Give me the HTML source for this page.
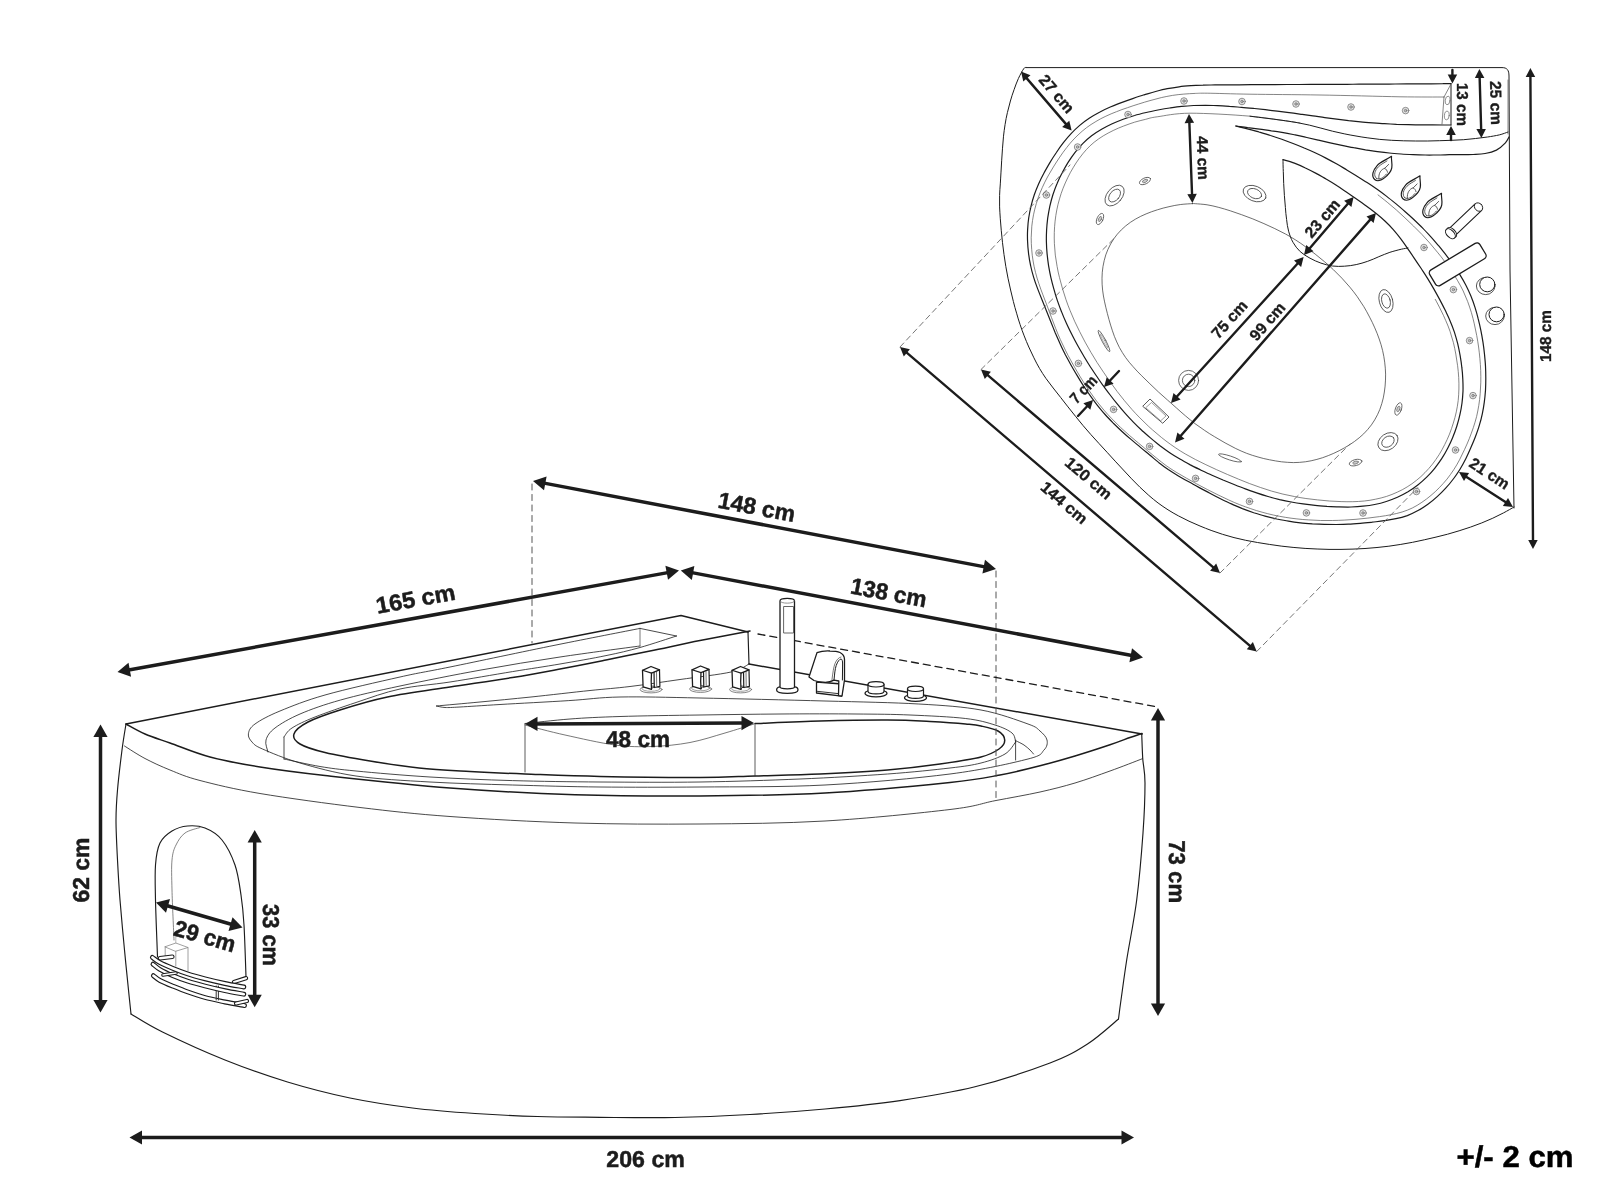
<!DOCTYPE html>
<html><head><meta charset="utf-8"><title>Corner bathtub dimensions</title>
<style>
html,body{margin:0;padding:0;background:#fff;}
body{width:1600px;height:1199px;overflow:hidden;}
svg{display:block;font-family:"Liberation Sans",sans-serif;will-change:transform;}
text{text-rendering:geometricPrecision;}
</style></head><body>
<svg width="1600" height="1199" viewBox="0 0 1600 1199" stroke-linecap="round" stroke-linejoin="round">
<rect width="1600" height="1199" fill="#fff"/>
<g id="perspective">
<path d="M126,724C125.3,728.3 123.4,739 122,750C120.6,761 118.5,778.3 117.5,790C116.5,801.7 116,808.3 116,820C116,831.7 116.8,846.7 117.5,860C118.2,873.3 118.8,885 120,900C121.2,915 123,934.2 124.5,950C126,965.8 127.9,984.3 129,995C130.1,1005.7 130.7,1010.8 131,1014" fill="none" stroke="#1c1c1c" stroke-width="1.15" />
<path d="M131,1014C136.2,1017 146.8,1024.3 162.5,1032C178.2,1039.7 204.2,1051.7 225,1060C245.8,1068.3 266.7,1075.7 287.5,1082C308.3,1088.3 329.2,1093.7 350,1098C370.8,1102.3 391.7,1105.4 412.5,1108C433.3,1110.6 454.2,1112.1 475,1113.5C495.8,1114.9 516.7,1115.9 537.5,1116.5C558.3,1117.1 577.1,1117.1 600,1117.3C622.9,1117.5 650,1118 675,1117.5C700,1117 725,1115.9 750,1114.5C775,1113.1 800,1111.3 825,1109C850,1106.7 875,1104.3 900,1100.6C925,1096.9 950,1093 975,1086.8C1000,1080.5 1031.2,1070.1 1050,1063C1068.8,1055.9 1076.1,1051.3 1087.5,1044C1098.9,1036.7 1113.3,1023.2 1118.5,1019" fill="none" stroke="#1c1c1c" stroke-width="1.15" />
<path d="M1141.7,733.5C1141.9,737.6 1142.2,749.8 1142.7,758C1143.2,766.2 1145,770.5 1145,783C1145,795.5 1144.4,813.5 1143,833C1141.6,852.5 1139.4,878.8 1136.7,900C1134,921.2 1129.3,943.3 1126.7,960C1124.1,976.7 1122.4,990.2 1121,1000C1119.6,1009.8 1118.9,1015.8 1118.5,1019" fill="none" stroke="#1c1c1c" stroke-width="1.15" />
<path d="M126,724L681,615.5L748,632" fill="none" stroke="#1c1c1c" stroke-width="1.5" />
<path d="M748,632L749,664" fill="none" stroke="#1c1c1c" stroke-width="1.15" />
<path d="M749,664L1142,734" fill="none" stroke="#1c1c1c" stroke-width="1.5" />
<path d="M126,724C129.2,725.7 137.7,730.8 145,734C152.3,737.2 159.2,739.2 170,743C180.8,746.8 195,753 210,757C225,761 240.8,763.9 260,767C279.2,770.1 293.3,772 325,775.5C356.7,779 408.3,784.8 450,788C491.7,791.2 533.3,793.4 575,794.7C616.7,796 658.3,796.3 700,796C741.7,795.7 783.3,795.2 825,793C866.7,790.8 920.8,785.5 950,782.5C979.2,779.5 985,777.8 1000,775C1015,772.2 1027.5,769 1040,765.8C1052.5,762.6 1063.3,759.5 1075,756C1086.7,752.5 1100.8,747.9 1110,744.8C1119.2,741.7 1124.7,739.4 1130,737.5C1135.3,735.6 1140,734.2 1142,733.5" fill="none" stroke="#1c1c1c" stroke-width="1.5" />
<path d="M124.5,746C127.9,748.1 137.4,754.5 145,758.5C152.6,762.5 160.8,766.3 170,770C179.2,773.7 185,776.6 200,780.5C215,784.4 233.3,789 260,793.5C286.7,798 328.3,803.7 360,807.5C391.7,811.3 414.2,813.9 450,816.5C485.8,819.1 533.3,821.8 575,823C616.7,824.2 658.3,824.3 700,824C741.7,823.7 783.3,823.4 825,821C866.7,818.6 921.7,812.9 950,809.5C978.3,806.1 980,803.6 995,800.7C1010,797.8 1026.7,795 1040,792C1053.3,789 1063.3,786.5 1075,783C1086.7,779.5 1098.8,775 1110,771C1121.2,767 1137,760.8 1142.4,758.7" fill="none" stroke="#1c1c1c" stroke-width="0.8" />
<path d="M640,628.4C626,631.2 587.7,638.6 556,645C524.3,651.4 476,661.7 450,667C424,672.3 420.8,672.3 400,677C379.2,681.7 345,689.3 325,695C305,700.7 291.7,706.2 280,711C268.3,715.8 260.3,720.2 255,724C249.7,727.8 248.9,730.8 248.4,733.8C247.9,736.8 249.7,739.5 252,742C254.3,744.5 254.5,745.5 262.5,749C270.5,752.5 284.4,758.5 300,763C315.6,767.5 334.3,772.8 356,776C377.7,779.2 403.9,780.5 430,782C456.1,783.5 484.2,784.2 512.5,785C540.8,785.8 568.8,786.7 600,787C631.2,787.3 662.5,787.3 700,787C737.5,786.7 783.3,787.2 825,785C866.7,782.8 916.2,778.3 950,774C983.8,769.7 1012.3,763 1028,759C1043.7,755 1040.8,753.2 1044,750C1047.2,746.8 1047.7,743.2 1047,740C1046.3,736.8 1043.2,733.7 1040,731C1036.8,728.3 1037.8,727.5 1028,724C1018.2,720.5 999.2,713.3 981,710C962.8,706.7 944.8,705.5 918.8,704C892.8,702.5 861.5,702 825,701C788.5,700 734.2,698.7 700,698C665.8,697.3 641.9,696.6 620,697C598.1,697.4 588.8,699.4 568.8,700.6C548.8,701.9 518.1,703.4 500,704.5C481.9,705.6 469.2,706.5 460,707C450.8,707.5 448.9,707.7 445,707.5C441.1,707.3 437.9,706.2 436.5,706" fill="none" stroke="#1c1c1c" stroke-width="0.8" />
<path d="M436.5,706C443.8,705.3 464.2,703.5 480,702C495.8,700.5 512.7,698.9 531,697C549.3,695.1 573.5,692.2 590,690.5C606.5,688.8 615,688.3 630,686.5C645,684.7 663.2,681.9 680,679.5C696.8,677.1 719.5,674.6 731,672C742.5,669.4 746,665.3 749,664" fill="none" stroke="#1c1c1c" stroke-width="0.8" />
<path d="M640,646C626.7,647.8 586.5,653 560,657C533.5,661 507.7,665.2 481,670C454.3,674.8 423.4,681 400,686C376.6,691 357.3,695.3 340.6,700C323.9,704.7 310.9,709.3 300,714C289.1,718.7 280.7,723.7 275,728C269.3,732.3 267.2,736 266,740C264.8,744 267.7,750 268,752" fill="none" stroke="#1c1c1c" stroke-width="0.8" />
<path d="M676.5,636C670.4,637.9 651.8,644.2 640,647.5C628.2,650.8 619.3,652.9 606,655.6C592.7,658.4 575.6,661.3 560,664C544.4,666.7 530.8,668.6 512.5,671.6C494.2,674.6 468.8,679.1 450,682C431.2,684.9 415.7,685.6 400,689C384.3,692.4 370.2,697.8 356,702.5C341.8,707.2 325.7,712.8 315,717C304.3,721.2 297.2,724.7 292,728C286.8,731.3 285.3,735.5 284,737" fill="none" stroke="#1c1c1c" stroke-width="0.8" />
<path d="M284,737L284,759" fill="none" stroke="#1c1c1c" stroke-width="0.8" />
<path d="M284,759C290,760.2 308,764.5 320,766.5C332,768.5 337.7,769.2 356,771C374.3,772.8 403.9,775.4 430,777C456.1,778.6 484.2,779.8 512.5,780.6C540.8,781.4 568.8,781.8 600,782C631.2,782.2 666.7,782.5 700,782C733.3,781.5 768.8,780.3 800,779C831.2,777.7 862.5,775.8 887.5,774C912.5,772.2 934.4,769.8 950,768C965.6,766.2 971.8,765.3 981,763C990.2,760.7 999.2,757.5 1005,754C1010.8,750.5 1013.8,744 1015.6,742" fill="none" stroke="#1c1c1c" stroke-width="0.8" />
<path d="M1015.6,740L1015.6,760" fill="none" stroke="#1c1c1c" stroke-width="0.8" />
<path d="M1015.6,742C1015,740.5 1015.4,735.8 1012,733C1008.6,730.2 1002.7,727.4 995,725C987.3,722.6 979.8,720.2 965.6,718.5C951.4,716.8 928.3,715.8 910,715C891.7,714.2 877.7,714.2 856,714C834.3,713.8 806,713.8 780,714C754,714.2 726.7,714.6 700,715C673.3,715.4 641.7,715.8 620,716.5C598.3,717.2 585.8,717.8 570,719C554.2,720.2 532.5,722.8 525,723.5" fill="none" stroke="#1c1c1c" stroke-width="0.8" />
<path d="M1016.4,741C1017.7,741.7 1021.7,743.5 1024,745C1026.3,746.5 1028.4,748.5 1030,750C1031.6,751.5 1032.9,753.3 1033.5,754" fill="none" stroke="#1c1c1c" stroke-width="0.8" />
<path d="M640,628.4L676.5,636" fill="none" stroke="#1c1c1c" stroke-width="0.8" />
<path d="M640,628.4L640,646" fill="none" stroke="#555" stroke-width="0.8" />
<path d="M750,631C741.7,632.6 716.7,637.3 700,640.6C683.3,643.9 665.7,647.8 650,651C634.3,654.2 621,657 606,660C591,663 575.6,666.1 560,669C544.4,671.9 530.8,674.5 512.5,677.5C494.2,680.5 470.8,683.8 450,687C429.2,690.2 405.8,693.2 387.5,697C369.2,700.8 353.2,705.8 340,710C326.8,714.2 315.7,718 308,722C300.3,726 295.3,730.3 294,734C292.7,737.7 294.8,740.9 300,744C305.2,747.1 313.3,749.7 325,752.5C336.7,755.3 354.3,758.4 370,761C385.7,763.6 402.3,766.2 419,768C435.7,769.8 452.3,770.5 470,771.5C487.7,772.5 503.3,773.2 525,774C546.7,774.8 570.8,775.9 600,776.5C629.2,777.1 674.2,777.6 700,777.5C725.8,777.4 735,776.6 755,776C775,775.4 797.9,775 820,774C842.1,773 867.5,771.7 887.5,770C907.5,768.3 924.4,766.2 940,764C955.6,761.8 971.2,759.5 981,757C990.8,754.5 995,751.8 999,749C1003,746.2 1004.9,743 1004.7,740C1004.5,737 1002,733.3 998,731C994,728.7 986.4,727.2 981,726C975.6,724.8 974.1,724.8 965.6,724C957.1,723.2 943,722.2 930,721.5C917,720.8 905.8,720.1 887.5,720C869.2,719.9 842.1,720.4 820,721C797.9,721.6 765.8,723.1 755,723.5" fill="none" stroke="#1c1c1c" stroke-width="1.5" />
<path d="M525,724L525,772" fill="none" stroke="#333" stroke-width="0.8" />
<path d="M755,724L755,776" fill="none" stroke="#333" stroke-width="0.8" />
<path d="M525,725C531.7,726.7 550,731.7 565,735C580,738.3 600.5,743.1 615,745C629.5,746.9 639.5,746.9 652,746.5C664.5,746.1 677.8,744.8 690,742.5C702.2,740.2 714.3,736.1 725,733C735.7,729.9 749.2,725.5 754,724" fill="none" stroke="#555" stroke-width="0.8" />
<path d="M532,484L532,643" fill="none" stroke="#555" stroke-width="1" stroke-dasharray="6 4.5"/>
<path d="M996,571L996,801" fill="none" stroke="#555" stroke-width="1" stroke-dasharray="6 4.5"/>
<path d="M758,634L1158,707" fill="none" stroke="#1c1c1c" stroke-width="1.3" stroke-dasharray="7 5"/>
<ellipse cx="651.1" cy="689.5" rx="11" ry="3.4" transform="rotate(0 651.1 689.5)" fill="#fff" stroke="#666" stroke-width="0.8"/>
<ellipse cx="651.1" cy="688.7" rx="9" ry="2.6" transform="rotate(0 651.1 688.7)" fill="none" stroke="#777" stroke-width="0.7"/>
<path d="M654,671.1 L659.5,669.9 L659.9,686.3 L654.3,687.5 Z" fill="#fff" stroke="#1c1c1c" stroke-width="1.2" />
<path d="M656.5,671.5 L656.7,686" fill="none" stroke="#555" stroke-width="0.8" />
<path d="M642.5,670.3 L651,666.5 L659.5,669.9 L651.5,673.1 C651.1,678.5 651.1,684.5 651.5,689.3 L643.1,686.9 Z" fill="#fff" stroke="#1c1c1c" stroke-width="1.3" />
<path d="M642.5,670.3 L651.5,673.1" fill="none" stroke="#1c1c1c" stroke-width="1.1" />
<path d="M651.5,689.3 C652,687.5 653,686.9 654.3,687.5" fill="none" stroke="#1c1c1c" stroke-width="1.0" />
<ellipse cx="700.6" cy="689" rx="11" ry="3.4" transform="rotate(0 700.6 689)" fill="#fff" stroke="#666" stroke-width="0.8"/>
<ellipse cx="700.6" cy="688.2" rx="9" ry="2.6" transform="rotate(0 700.6 688.2)" fill="none" stroke="#777" stroke-width="0.7"/>
<path d="M703.5,670.6 L709,669.4 L709.4,685.8 L703.8,687 Z" fill="#fff" stroke="#1c1c1c" stroke-width="1.2" />
<path d="M706,671 L706.2,685.5" fill="none" stroke="#555" stroke-width="0.8" />
<path d="M692,669.8 L700.5,666 L709,669.4 L701,672.6 C700.6,678 700.6,684 701,688.8 L692.6,686.4 Z" fill="#fff" stroke="#1c1c1c" stroke-width="1.3" />
<path d="M692,669.8 L701,672.6" fill="none" stroke="#1c1c1c" stroke-width="1.1" />
<path d="M701,688.8 C701.5,687 702.5,686.4 703.8,687" fill="none" stroke="#1c1c1c" stroke-width="1.0" />
<ellipse cx="740.6" cy="689.5" rx="11" ry="3.4" transform="rotate(0 740.6 689.5)" fill="#fff" stroke="#666" stroke-width="0.8"/>
<ellipse cx="740.6" cy="688.7" rx="9" ry="2.6" transform="rotate(0 740.6 688.7)" fill="none" stroke="#777" stroke-width="0.7"/>
<path d="M743.5,671.1 L749,669.9 L749.4,686.3 L743.8,687.5 Z" fill="#fff" stroke="#1c1c1c" stroke-width="1.2" />
<path d="M746,671.5 L746.2,686" fill="none" stroke="#555" stroke-width="0.8" />
<path d="M732,670.3 L740.5,666.5 L749,669.9 L741,673.1 C740.6,678.5 740.6,684.5 741,689.3 L732.6,686.9 Z" fill="#fff" stroke="#1c1c1c" stroke-width="1.3" />
<path d="M732,670.3 L741,673.1" fill="none" stroke="#1c1c1c" stroke-width="1.1" />
<path d="M741,689.3 C741.5,687.5 742.5,686.9 743.8,687.5" fill="none" stroke="#1c1c1c" stroke-width="1.0" />
<path d="M776.6,690 C776.6,687.6 779,686.8 780,686.8 L794.5,686.8 C796,686.8 798,687.8 798,690 C798,694.6 776.6,694.6 776.6,690Z" fill="#fff" stroke="#1c1c1c" stroke-width="1.3" />
<path d="M780,687 L780,601 C780,597.6 794.5,597.6 794.5,601 L794.5,687 C794.5,689.4 780,689.4 780,687Z" fill="#fff" stroke="#1c1c1c" stroke-width="1.3" />
<path d="M780,601 C780,604 794.5,604 794.5,601" fill="none" stroke="#777" stroke-width="0.8" />
<path d="M784,606.5L793.5,606.5L793.5,633L784,633Z" fill="none" stroke="#555" stroke-width="0.9" />
<path d="M816.5,682 L816.5,693 L841.5,696.2 L842.5,690 L842,684Z" fill="#fff" stroke="#1c1c1c" stroke-width="1.3" />
<path d="M817,691.3 L841.7,694" fill="none" stroke="#1c1c1c" stroke-width="0.9" />
<path d="M817,652.6 C821,651.2 826,650.8 830,651 C835,651 838,651.6 840,652.5 C843,654 844.5,656 844.5,659.5 L844.5,680 L842,696 L838.5,695.6 L838.8,681 L834,680.2 C830,682.3 826,682.6 823,682.2 C819,681.8 816,681.2 814,680.5 L809,677 Z" fill="#fff" stroke="#1c1c1c" stroke-width="1.3" />
<path d="M834,680.2 C834.6,674 835,669 836.2,665.5 C837.6,661.5 839.4,659.2 841,659 C842.2,659.2 842.6,661 842.6,664 L842.4,680" fill="none" stroke="#1c1c1c" stroke-width="1.0" />
<path d="M832,679.6 C832.8,673 833.6,667 835,663.5 C836.4,660 838.6,657.4 841,657" fill="none" stroke="#555" stroke-width="0.8" />
<ellipse cx="876" cy="693.3" rx="11" ry="3.6" transform="rotate(0 876 693.3)" fill="#fff" stroke="#1c1c1c" stroke-width="1.2"/>
<path d="M868,684.3 L868,691.3 C868,694.8 884,694.8 884,691.3 L884,684.3" fill="#fff" stroke="#1c1c1c" stroke-width="1.2" />
<ellipse cx="876" cy="684.3" rx="8" ry="2.7" transform="rotate(0 876 684.3)" fill="#fff" stroke="#1c1c1c" stroke-width="1.2"/>
<ellipse cx="915.5" cy="697.8" rx="11" ry="3.6" transform="rotate(0 915.5 697.8)" fill="#fff" stroke="#1c1c1c" stroke-width="1.2"/>
<path d="M907.5,688.8 L907.5,695.8 C907.5,699.3 923.5,699.3 923.5,695.8 L923.5,688.8" fill="#fff" stroke="#1c1c1c" stroke-width="1.2" />
<ellipse cx="915.5" cy="688.8" rx="8" ry="2.7" transform="rotate(0 915.5 688.8)" fill="#fff" stroke="#1c1c1c" stroke-width="1.2"/>
<path d="M157.5,957C157.2,947.5 155.8,915.3 155.5,900C155.2,884.7 154.8,874.5 155.5,865C156.2,855.5 157.2,848.7 160,843C162.8,837.3 167.4,833.8 172,831C176.6,828.2 182,826.5 187.5,826C193,825.5 199.2,825.7 205,828C210.8,830.3 217,833.8 222,840C227,846.2 231.8,855.8 235,865C238.2,874.2 239.5,885 241,895C242.5,905 243.2,911.3 244,925C244.8,938.7 245.7,968.3 246,977" fill="none" stroke="#1c1c1c" stroke-width="1.15" />
<path d="M200,827.5C197.5,828.4 189,830.1 185,833C181,835.9 178.2,840.5 176,845C173.8,849.5 172.7,852.5 172,860C171.3,867.5 171.7,876.7 172,890C172.3,903.3 173.7,931.7 174,940" fill="none" stroke="#666" stroke-width="0.8" />
<path d="M165.2,946.7L175.8,943L188,947.5L175.8,951.2Z" fill="none" stroke="#888" stroke-width="0.8" />
<path d="M165.2,946.7L165.2,957" fill="none" stroke="#888" stroke-width="0.8" />
<path d="M175.8,951.2L175.8,966" fill="none" stroke="#888" stroke-width="0.8" />
<path d="M188,947.5L188,971" fill="none" stroke="#888" stroke-width="0.8" />
<path d="M175.8,943L175.8,936" fill="none" stroke="#999" stroke-width="0.7" />
<path d="M160,958.2 L172.3,956.8" fill="none" stroke="#1c1c1c" stroke-width="4.6" />
<path d="M160,958.2 L172.3,956.8" fill="none" stroke="#fff" stroke-width="2.4" />
<path d="M234,982 L246,978.2" fill="none" stroke="#1c1c1c" stroke-width="4.4" />
<path d="M234,982 L246,978.2" fill="none" stroke="#fff" stroke-width="2.2" />
<path d="M153.4,975.7C154.5,976.5 156.8,978.8 160,980.5C163.2,982.2 167.8,984.1 172.5,986C177.2,987.9 182.6,990.1 188,992C193.4,993.9 198.8,995.8 205,997.5C211.2,999.2 218.4,1000.6 225,1002C231.6,1003.4 241.2,1005 244.5,1005.6" fill="none" stroke="#1c1c1c" stroke-width="4.9" />
<path d="M153.4,975.7C154.5,976.5 156.8,978.8 160,980.5C163.2,982.2 167.8,984.1 172.5,986C177.2,987.9 182.6,990.1 188,992C193.4,993.9 198.8,995.8 205,997.5C211.2,999.2 218.4,1000.6 225,1002C231.6,1003.4 241.2,1005 244.5,1005.6" fill="none" stroke="#fff" stroke-width="2.6000000000000005" />
<path d="M236,1003.5 L247,1001" fill="none" stroke="#1c1c1c" stroke-width="4.2" />
<path d="M236,1003.5 L247,1001" fill="none" stroke="#fff" stroke-width="2.0" />
<path d="M216.2,986L216.2,1000" fill="none" stroke="#333" stroke-width="1" />
<path d="M218.4,986L218.4,1000" fill="none" stroke="#333" stroke-width="1" />
<path d="M153,964.2C154.2,965.1 156.8,967.6 160,969.5C163.2,971.4 167.8,973.5 172.5,975.5C177.2,977.5 182.6,979.5 188,981.3C193.4,983 198.8,984.4 205,986C211.2,987.6 218.5,989.3 225,990.7C231.5,992.1 240.7,993.6 243.8,994.2" fill="none" stroke="#1c1c1c" stroke-width="4.9" />
<path d="M153,964.2C154.2,965.1 156.8,967.6 160,969.5C163.2,971.4 167.8,973.5 172.5,975.5C177.2,977.5 182.6,979.5 188,981.3C193.4,983 198.8,984.4 205,986C211.2,987.6 218.5,989.3 225,990.7C231.5,992.1 240.7,993.6 243.8,994.2" fill="none" stroke="#fff" stroke-width="2.6000000000000005" />
<path d="M163,975 L176,973" fill="none" stroke="#1c1c1c" stroke-width="3.6" />
<path d="M163,975 L176,973" fill="none" stroke="#fff" stroke-width="1.6" />
<path d="M152.4,957.4C153.7,958.3 156.7,960.9 160,962.7C163.3,964.5 167.8,966.3 172.5,968.2C177.2,970.1 182.6,972.2 188,974C193.4,975.8 198.8,977.2 205,978.8C211.2,980.4 218.5,982.1 225,983.5C231.5,984.9 240.7,986.4 243.8,987" fill="none" stroke="#1c1c1c" stroke-width="4.9" />
<path d="M152.4,957.4C153.7,958.3 156.7,960.9 160,962.7C163.3,964.5 167.8,966.3 172.5,968.2C177.2,970.1 182.6,972.2 188,974C193.4,975.8 198.8,977.2 205,978.8C211.2,980.4 218.5,982.1 225,983.5C231.5,984.9 240.7,986.4 243.8,987" fill="none" stroke="#fff" stroke-width="2.6000000000000005" />
<line x1="127.3" y1="670.2" x2="669.2" y2="572.4" stroke="#1c1c1c" stroke-width="3.5"/>
<polygon points="679,570.6 668,579.8 665.4,565.8" fill="#1c1c1c"/>
<polygon points="117.5,672 131.1,676.8 128.5,662.8" fill="#1c1c1c"/>
<line x1="690.6" y1="572.4" x2="1133.2" y2="655.7" stroke="#1c1c1c" stroke-width="3.5"/>
<polygon points="1143,657.5 1129.4,662.2 1132,648.2" fill="#1c1c1c"/>
<polygon points="680.8,570.6 691.8,579.9 694.4,565.9" fill="#1c1c1c"/>
<line x1="542.8" y1="482.9" x2="986.2" y2="567.1" stroke="#1c1c1c" stroke-width="3.5"/>
<polygon points="996,569 982.4,573.6 985,559.7" fill="#1c1c1c"/>
<polygon points="533,481 544,490.3 546.6,476.4" fill="#1c1c1c"/>
<line x1="139.5" y1="1137.5" x2="1124" y2="1137.5" stroke="#1c1c1c" stroke-width="3.5"/>
<polygon points="1134,1137.5 1121.5,1144.6 1121.5,1130.4" fill="#1c1c1c"/>
<polygon points="129.5,1137.5 142,1144.6 142,1130.4" fill="#1c1c1c"/>
<line x1="100.5" y1="734.5" x2="100.5" y2="1002.5" stroke="#1c1c1c" stroke-width="3.5"/>
<polygon points="100.5,1012.5 93.4,1000 107.6,1000" fill="#1c1c1c"/>
<polygon points="100.5,724.5 93.4,737 107.6,737" fill="#1c1c1c"/>
<line x1="1158" y1="718" x2="1158" y2="1006" stroke="#1c1c1c" stroke-width="3.5"/>
<polygon points="1158,1016 1150.9,1003.5 1165.1,1003.5" fill="#1c1c1c"/>
<polygon points="1158,708 1150.9,720.5 1165.1,720.5" fill="#1c1c1c"/>
<line x1="254.7" y1="840" x2="254.7" y2="997.3" stroke="#1c1c1c" stroke-width="3.5"/>
<polygon points="254.7,1007.3 247.6,994.8 261.8,994.8" fill="#1c1c1c"/>
<polygon points="254.7,830 247.6,842.5 261.8,842.5" fill="#1c1c1c"/>
<line x1="165.6" y1="905.3" x2="232.9" y2="924.7" stroke="#1c1c1c" stroke-width="3.5"/>
<polygon points="242.5,927.5 228.5,930.9 232.5,917.2" fill="#1c1c1c"/>
<polygon points="156,902.5 166,912.8 170,899.1" fill="#1c1c1c"/>
<line x1="535" y1="724" x2="744" y2="723" stroke="#1c1c1c" stroke-width="3.5"/>
<polygon points="754,723 741.5,730.2 741.5,716" fill="#1c1c1c"/>
<polygon points="525,724 537.5,731 537.5,716.8" fill="#1c1c1c"/>
<text transform="translate(415.5,598.7) rotate(-10.4)" font-size="23" font-weight="bold" fill="#1c1c1c" stroke="#1c1c1c" stroke-width="0.5" stroke-linejoin="miter" text-anchor="middle" dominant-baseline="central" textLength="80" lengthAdjust="spacingAndGlyphs">165 cm</text>
<text transform="translate(756.7,507) rotate(10.8)" font-size="23" font-weight="bold" fill="#1c1c1c" stroke="#1c1c1c" stroke-width="0.5" stroke-linejoin="miter" text-anchor="middle" dominant-baseline="central" textLength="78" lengthAdjust="spacingAndGlyphs">148 cm</text>
<text transform="translate(888.7,592.5) rotate(10.5)" font-size="23" font-weight="bold" fill="#1c1c1c" stroke="#1c1c1c" stroke-width="0.5" stroke-linejoin="miter" text-anchor="middle" dominant-baseline="central" textLength="77" lengthAdjust="spacingAndGlyphs">138 cm</text>
<text transform="translate(645.6,1159.3) rotate(0)" font-size="23" font-weight="bold" fill="#1c1c1c" stroke="#1c1c1c" stroke-width="0.5" stroke-linejoin="miter" text-anchor="middle" dominant-baseline="central" textLength="78.5" lengthAdjust="spacingAndGlyphs">206 cm</text>
<text transform="translate(81,870) rotate(-90)" font-size="23" font-weight="bold" fill="#1c1c1c" stroke="#1c1c1c" stroke-width="0.5" stroke-linejoin="miter" text-anchor="middle" dominant-baseline="central" textLength="65" lengthAdjust="spacingAndGlyphs">62 cm</text>
<text transform="translate(1176.7,871.7) rotate(90)" font-size="23" font-weight="bold" fill="#1c1c1c" stroke="#1c1c1c" stroke-width="0.5" stroke-linejoin="miter" text-anchor="middle" dominant-baseline="central" textLength="63" lengthAdjust="spacingAndGlyphs">73 cm</text>
<text transform="translate(271,935) rotate(90)" font-size="23" font-weight="bold" fill="#1c1c1c" stroke="#1c1c1c" stroke-width="0.5" stroke-linejoin="miter" text-anchor="middle" dominant-baseline="central" textLength="62" lengthAdjust="spacingAndGlyphs">33 cm</text>
<text transform="translate(205,936) rotate(16)" font-size="23" font-weight="bold" fill="#1c1c1c" stroke="#1c1c1c" stroke-width="0.5" stroke-linejoin="miter" text-anchor="middle" dominant-baseline="central" textLength="63" lengthAdjust="spacingAndGlyphs">29 cm</text>
<text transform="translate(638,738.5) rotate(0)" font-size="23" font-weight="bold" fill="#1c1c1c" stroke="#1c1c1c" stroke-width="0.5" stroke-linejoin="miter" text-anchor="middle" dominant-baseline="central" textLength="64" lengthAdjust="spacingAndGlyphs">48 cm</text>
<text transform="translate(1515,1157.6) rotate(0)" font-size="30" font-weight="bold" fill="#000" stroke="#000" stroke-width="0.5" stroke-linejoin="miter" text-anchor="middle" dominant-baseline="central" textLength="117" lengthAdjust="spacingAndGlyphs">+/- 2 cm</text>
</g>
<g id="plan">
<path d="M1026,67.6 L1502,67.6 C1507,67.6 1509,70 1509,76 L1510,270 L1514,508" fill="none" stroke="#1c1c1c" stroke-width="1.0" />
<path d="M1514,507C1512.3,508 1507.1,511 1503.5,512.9C1500,514.7 1496.4,516.5 1492.8,518.2C1489.2,519.8 1485.5,521.4 1481.8,522.9C1478.1,524.4 1474.3,525.7 1470.5,527.1C1466.8,528.4 1463,529.6 1459.1,530.8C1455.3,532 1451.5,533.1 1447.6,534.2C1443.8,535.2 1439.9,536.2 1436,537.1C1432.1,538.1 1428.2,539 1424.3,539.8C1420.4,540.7 1416.5,541.5 1412.6,542.3C1408.6,543 1404.7,543.8 1400.8,544.4C1396.8,545 1392.9,545.6 1388.9,546.2C1384.9,546.7 1381,547.1 1377,547.5C1373,547.9 1369,548.2 1365,548.5C1361,548.8 1357,549 1353,549.1C1349,549.3 1345,549.4 1341,549.4C1337,549.5 1333,549.4 1329,549.4C1325.1,549.3 1321.1,549.2 1317.1,549C1313.1,548.9 1309.1,548.7 1305.1,548.4C1301.1,548.1 1297.1,547.8 1293.1,547.4C1289.1,547 1285.2,546.6 1281.2,546.1C1277.2,545.6 1273.3,545 1269.3,544.4C1265.4,543.8 1261.4,543.2 1257.5,542.5C1253.5,541.8 1249.6,541.1 1245.7,540.3C1241.8,539.4 1237.9,538.6 1234,537.6C1230.1,536.6 1226.3,535.5 1222.5,534.3C1218.7,533.1 1214.9,531.8 1211.1,530.4C1207.4,529 1203.7,527.6 1200,526C1196.3,524.5 1192.6,522.9 1189,521.2C1185.4,519.5 1181.8,517.7 1178.3,515.8C1174.8,513.9 1171.3,511.9 1168,509.8C1164.6,507.6 1161.3,505.4 1158.1,503C1154.9,500.6 1151.8,498 1148.8,495.4C1145.8,492.8 1142.9,490.1 1140,487.3C1137.1,484.5 1134.3,481.6 1131.6,478.8C1128.8,475.9 1126.1,472.9 1123.4,470C1120.6,467.1 1118,464.1 1115.2,461.2C1112.5,458.2 1109.8,455.3 1107.1,452.3C1104.4,449.4 1101.7,446.5 1099,443.5C1096.3,440.6 1093.6,437.6 1090.9,434.6C1088.3,431.6 1085.7,428.6 1083.1,425.6C1080.5,422.5 1078,419.4 1075.5,416.3C1072.9,413.2 1070.5,410 1068,406.9C1065.5,403.7 1063.1,400.6 1060.6,397.4C1058.2,394.3 1055.7,391.1 1053.2,388C1050.8,384.8 1048.3,381.7 1046,378.5C1043.7,375.2 1041.5,371.8 1039.5,368.4C1037.5,365 1035.7,361.4 1033.9,357.8C1032.1,354.3 1030.4,350.7 1028.8,347C1027.2,343.3 1025.6,339.7 1024.2,335.9C1022.7,332.2 1021.4,328.4 1020.1,324.6C1018.8,320.9 1017.7,317 1016.6,313.2C1015.4,309.4 1014.4,305.5 1013.4,301.6C1012.4,297.7 1011.5,293.9 1010.6,290C1009.7,286.1 1008.8,282.2 1008,278.2C1007.3,274.3 1006.5,270.4 1005.8,266.4C1005.1,262.5 1004.5,258.6 1004,254.6C1003.4,250.6 1002.9,246.7 1002.5,242.7C1002,238.7 1001.7,234.7 1001.3,230.8C1000.9,226.8 1000.6,222.8 1000.3,218.8C1000.1,214.8 999.7,210.8 999.6,206.9C999.5,203 999.5,199.3 999.6,195.4C999.7,191.6 1000,187.8 1000.3,183.9C1000.5,180.1 1000.8,176.1 1001,172.1C1001.2,168.2 1001.4,164.1 1001.7,160.2C1001.9,156.2 1002.2,152.2 1002.5,148.2C1002.8,144.2 1003.1,140.2 1003.5,136.2C1004,132.3 1004.4,128.3 1005.1,124.4C1005.7,120.4 1006.5,116.5 1007.4,112.6C1008.3,108.7 1009.3,104.8 1010.4,101C1011.5,97.2 1012.7,93.3 1014.1,89.6C1015.4,85.9 1016.8,82 1018.4,78.5C1020,75 1022.5,70.4 1023.8,68.6C1025.1,66.8 1025.6,67.8 1026,67.6" fill="none" stroke="#1c1c1c" stroke-width="1.0" />
<path d="M1508,80L1508,134" fill="none" stroke="#555" stroke-width="0.72" />
<path d="M1235.8,126C1237.7,126.5 1243.5,127.8 1247.4,128.8C1251.3,129.8 1255.1,130.9 1259,132C1262.8,133.1 1266.7,134.2 1270.5,135.5C1274.3,136.7 1278.1,138 1281.8,139.3C1285.6,140.6 1289.3,142 1293.1,143.5C1296.8,144.9 1300.5,146.4 1304.2,148C1307.9,149.5 1311.5,151.1 1315.1,152.8C1318.8,154.5 1322.4,156.3 1325.9,158.1C1329.5,160 1333,161.9 1336.4,163.8C1339.9,165.8 1343.4,167.9 1346.8,169.9C1350.2,172 1353.6,174.1 1357,176.2C1360.4,178.3 1363.8,180.4 1367.1,182.6C1370.5,184.8 1373.8,187 1377.1,189.3C1380.4,191.6 1383.6,194 1386.7,196.4C1389.9,198.9 1393,201.4 1396.1,203.9C1399.2,206.5 1402.2,209.1 1405.2,211.7C1408.2,214.3 1411.2,217 1414.1,219.7C1417,222.5 1419.9,225.3 1422.7,228.1C1425.5,231 1428.2,233.9 1430.9,236.8C1433.6,239.8 1436.2,242.9 1438.8,245.9C1441.3,249 1443.8,252.1 1446.3,255.3C1448.7,258.4 1451.1,261.6 1453.4,264.9C1455.7,268.2 1457.9,271.5 1460,274.9C1462.1,278.3 1464.1,281.7 1465.9,285.3C1467.7,288.8 1469.4,292.5 1470.9,296.1C1472.4,299.8 1473.8,303.6 1475,307.4C1476.2,311.2 1477.3,315 1478.2,318.9C1479.2,322.8 1480.1,326.7 1480.9,330.6C1481.7,334.5 1482.4,338.5 1483,342.4C1483.6,346.3 1484.1,350.3 1484.5,354.3C1484.9,358.3 1485.3,362.2 1485.5,366.2C1485.7,370.2 1485.8,374.2 1485.8,378.2C1485.8,382.2 1485.7,386.2 1485.5,390.2C1485.2,394.2 1484.9,398.1 1484.3,402.1C1483.8,406 1483.1,410 1482.3,413.9C1481.5,417.8 1480.5,421.6 1479.3,425.4C1478.2,429.3 1476.8,433 1475.4,436.8C1474,440.5 1472.4,444.2 1470.8,447.8C1469.2,451.5 1467.6,455.1 1465.8,458.7C1464,462.2 1462.1,465.8 1460,469.2C1457.9,472.5 1455.7,475.9 1453.3,479C1450.9,482.2 1448.4,485.3 1445.7,488.2C1443,491.2 1440.2,494 1437.2,496.6C1434.3,499.3 1431.2,501.8 1427.9,504.2C1424.7,506.5 1421.4,508.7 1418,510.6C1414.6,512.5 1411,514.2 1407.3,515.6C1403.6,516.9 1399.8,517.9 1395.9,518.7C1392,519.6 1388.1,520.1 1384.1,520.7C1380.2,521.3 1376.2,521.7 1372.2,522.2C1368.2,522.6 1364.3,523 1360.3,523.3C1356.3,523.6 1352.3,523.9 1348.3,524.1C1344.3,524.3 1340.3,524.4 1336.3,524.5C1332.3,524.5 1328.3,524.5 1324.3,524.4C1320.3,524.3 1316.3,524.1 1312.4,523.9C1308.4,523.6 1304.4,523.3 1300.4,522.8C1296.4,522.4 1292.5,521.9 1288.5,521.2C1284.6,520.6 1280.7,519.8 1276.8,519C1272.9,518.1 1269,517.2 1265.1,516.1C1261.3,515.1 1257.5,513.9 1253.7,512.7C1249.9,511.4 1246.1,510 1242.4,508.6C1238.7,507.1 1235,505.6 1231.4,503.9C1227.7,502.3 1224.1,500.5 1220.5,498.7C1217,497 1213.4,495.1 1209.9,493.2C1206.3,491.4 1202.8,489.5 1199.3,487.6C1195.8,485.7 1192.3,483.8 1188.8,481.8C1185.3,479.9 1181.8,477.9 1178.4,475.9C1174.9,473.8 1171.5,471.7 1168.2,469.5C1165,467.2 1161.8,464.8 1158.6,462.4C1155.5,459.9 1152.5,457.3 1149.4,454.8C1146.3,452.2 1143.2,449.7 1140.2,447.1C1137.1,444.5 1134,442 1131,439.4C1127.9,436.8 1124.9,434.2 1122,431.5C1119,428.8 1116.2,426 1113.3,423.2C1110.5,420.3 1107.8,417.5 1105.1,414.5C1102.4,411.5 1099.9,408.4 1097.4,405.3C1094.9,402.2 1092.5,399 1090.2,395.7C1087.9,392.5 1085.7,389.1 1083.5,385.8C1081.3,382.4 1079.2,379 1077.2,375.6C1075.1,372.2 1073.1,368.7 1071.1,365.2C1069.2,361.8 1067.3,358.2 1065.4,354.7C1063.6,351.1 1061.8,347.6 1060.2,343.9C1058.5,340.3 1056.9,336.6 1055.3,333C1053.8,329.3 1052.3,325.5 1050.8,321.8C1049.4,318.1 1047.9,314.4 1046.4,310.7C1044.9,307 1043.4,303.3 1041.9,299.5C1040.4,295.8 1038.9,292.1 1037.5,288.4C1036.1,284.7 1034.7,280.9 1033.6,277.1C1032.4,273.3 1031.4,269.4 1030.6,265.5C1029.7,261.6 1029.1,257.7 1028.6,253.8C1028.1,249.8 1027.7,245.8 1027.6,241.8C1027.4,237.9 1027.4,233.9 1027.6,229.9C1027.8,225.9 1028.1,221.9 1028.7,218C1029.3,214.1 1030,210.1 1031,206.3C1031.9,202.4 1033,198.6 1034.3,194.8C1035.6,191 1037.1,187.3 1038.7,183.7C1040.3,180.1 1042.1,176.5 1044,173C1045.9,169.4 1047.9,166 1049.9,162.6C1052,159.1 1054.1,155.8 1056.4,152.5C1058.6,149.1 1060.9,145.9 1063.4,142.7C1065.8,139.6 1068.3,136.5 1071.1,133.6C1073.8,130.7 1076.7,128 1079.7,125.4C1082.7,122.9 1085.9,120.5 1089.2,118.3C1092.5,116.1 1096,114 1099.5,112.2C1103,110.3 1106.6,108.6 1110.3,107C1114,105.5 1117.7,104 1121.4,102.6C1125.2,101.2 1128.9,99.9 1132.7,98.6C1136.5,97.3 1140.3,96 1144.1,94.8C1147.9,93.7 1151.8,92.5 1155.6,91.5C1159.5,90.5 1163.4,89.5 1167.3,88.7C1171.2,87.9 1175.1,87.3 1179.1,86.8C1183,86.3 1187,86 1191,85.7C1195,85.4 1199,85.3 1203,85.2C1207,85 1211,85 1215,84.9C1219,84.9 1223,84.9 1227,84.8C1231,84.8 1235,84.8 1239,84.8C1243,84.8 1247,84.8 1251,84.7C1255,84.7 1259,84.7 1263,84.7C1267,84.6 1271,84.6 1275,84.6C1279,84.6 1283,84.6 1287,84.5C1291,84.5 1295,84.5 1299,84.5C1303,84.5 1307,84.5 1311,84.4C1315,84.4 1319,84.4 1323,84.4C1327,84.4 1331,84.3 1335,84.3C1339,84.3 1343,84.3 1347,84.3C1351,84.3 1355,84.2 1359,84.2C1363,84.2 1367,84.2 1371,84.2C1375,84.1 1379,84.1 1383,84.1C1387,84.1 1391,84 1395,84C1399,84 1403,84 1407,83.9C1411,83.9 1415,83.9 1419,83.9C1423,83.8 1427,83.8 1431,83.8C1434.9,83.7 1439.5,83.7 1442.8,83.7C1446.2,83.6 1449.6,83.6 1451,83.6" fill="none" stroke="#1c1c1c" stroke-width="1.2" />
<path d="M1378,194.9C1379.5,196.1 1384.2,199.7 1387.2,202.2C1390.3,204.7 1393.3,207.3 1396.3,209.9C1399.2,212.5 1402.2,215.2 1405,217.9C1407.9,220.6 1410.8,223.3 1413.6,226.1C1416.4,228.9 1419.2,231.6 1421.9,234.4C1424.6,237.3 1427.2,240.2 1429.8,243.1C1432.4,246.1 1434.9,249.1 1437.4,252.2C1439.9,255.2 1442.4,258.3 1444.7,261.5C1447.1,264.6 1449.4,267.7 1451.6,271C1453.7,274.2 1455.8,277.5 1457.7,280.8C1459.7,284.1 1461.5,287.6 1463.2,291C1464.8,294.5 1466.3,298 1467.7,301.6C1469.1,305.2 1470.2,308.9 1471.4,312.6C1472.5,316.3 1473.4,320.1 1474.3,323.9C1475.2,327.7 1476,331.6 1476.7,335.4C1477.4,339.3 1478.1,343.2 1478.6,347C1479.1,350.9 1479.6,354.8 1479.9,358.7C1480.3,362.6 1480.5,366.5 1480.7,370.4C1480.8,374.3 1480.9,378.2 1480.8,382.1C1480.7,386 1480.5,389.9 1480.2,393.7C1479.9,397.6 1479.4,401.5 1478.8,405.3C1478.2,409.1 1477.5,412.8 1476.6,416.6C1475.6,420.3 1474.6,424 1473.3,427.7C1472.1,431.3 1470.7,435 1469.3,438.6C1467.8,442.2 1466.3,445.9 1464.6,449.4C1463,453 1461.3,456.5 1459.5,459.9C1457.7,463.3 1455.8,466.6 1453.7,469.8C1451.6,473 1449.3,476.1 1447,479.1C1444.6,482 1442,484.9 1439.4,487.6C1436.7,490.4 1433.9,493 1431,495.4C1428.1,497.9 1425,500.2 1421.9,502.3C1418.8,504.4 1415.6,506.4 1412.3,508C1409,509.6 1405.6,510.9 1402.1,512C1398.6,513.1 1394.9,513.9 1391.1,514.7C1387.4,515.5 1383.5,516 1379.6,516.6C1375.7,517.2 1371.7,517.7 1367.8,518.1C1363.9,518.6 1359.9,519 1356,519.3C1352,519.6 1348.1,519.9 1344.2,520.1C1340.2,520.3 1336.3,520.5 1332.3,520.5C1328.4,520.6 1324.4,520.6 1320.5,520.5C1316.5,520.4 1312.6,520.2 1308.7,519.9C1304.7,519.7 1300.8,519.4 1296.9,518.9C1293,518.5 1289.1,517.9 1285.2,517.3C1281.3,516.7 1277.4,515.9 1273.6,515.1C1269.7,514.2 1265.9,513.3 1262.1,512.2C1258.3,511.2 1254.5,510 1250.8,508.7C1247.1,507.5 1243.4,506.1 1239.7,504.7C1236,503.2 1232.4,501.7 1228.8,500C1225.1,498.4 1221.6,496.7 1218,494.9C1214.4,493.2 1210.9,491.4 1207.3,489.5C1203.8,487.7 1200.2,485.8 1196.7,483.9C1193.2,482 1189.7,480.1 1186.3,478.1C1182.8,476.2 1179.4,474.2 1176,472.1C1172.6,470 1169.3,467.9 1166.1,465.6C1162.9,463.3 1159.9,460.8 1156.8,458.3C1153.7,455.9 1150.7,453.2 1147.6,450.7C1144.5,448.1 1141.4,445.6 1138.4,443C1135.3,440.5 1132.3,437.9 1129.3,435.3C1126.3,432.7 1123.3,430 1120.4,427.3C1117.6,424.6 1114.7,421.8 1112,418.9C1109.2,416.1 1106.6,413.2 1104,410.2C1101.4,407.2 1098.9,404.1 1096.5,401C1094.1,397.8 1091.8,394.6 1089.6,391.3C1087.3,388.1 1085.2,384.7 1083.1,381.4C1080.9,378 1078.9,374.6 1076.9,371.2C1074.8,367.7 1072.9,364.3 1071,360.8C1069,357.3 1067.2,353.8 1065.4,350.2C1063.6,346.7 1062,343.1 1060.3,339.5C1058.7,335.9 1057.1,332.2 1055.7,328.5C1054.2,324.8 1052.8,321 1051.4,317.3C1050,313.6 1048.6,309.8 1047.2,306C1045.8,302.3 1044.3,298.6 1042.9,294.8C1041.5,291.1 1040.1,287.4 1038.9,283.7C1037.6,279.9 1036.4,276.2 1035.5,272.4C1034.5,268.7 1033.7,264.9 1033.1,261C1032.4,257.2 1032,253.3 1031.7,249.4C1031.4,245.6 1031.2,241.7 1031.2,237.8C1031.3,233.9 1031.5,230.1 1031.8,226.2C1032.2,222.4 1032.8,218.6 1033.5,214.8C1034.3,211 1035.2,207.3 1036.3,203.6C1037.4,199.9 1038.6,196.3 1040.1,192.7C1041.5,189.2 1043.1,185.7 1044.8,182.2C1046.5,178.7 1048.4,175.3 1050.4,172C1052.3,168.6 1054.4,165.3 1056.5,162C1058.7,158.7 1060.9,155.4 1063.1,152.3C1065.4,149.2 1067.8,146.1 1070.2,143.2C1072.7,140.3 1075.3,137.5 1078,135C1080.7,132.4 1083.5,130 1086.5,127.7C1089.5,125.5 1092.6,123.4 1095.9,121.5C1099.1,119.5 1102.5,117.8 1105.9,116.2C1109.3,114.5 1112.9,113.1 1116.5,111.7C1120.1,110.2 1123.8,108.9 1127.5,107.7C1131.2,106.4 1135,105.1 1138.7,104C1142.5,102.8 1146.3,101.6 1150,100.6C1153.8,99.5 1157.5,98.5 1161.3,97.6C1165,96.8 1168.7,96 1172.5,95.4C1176.3,94.8 1180,94.4 1183.8,94.1C1187.7,93.7 1191.5,93.6 1195.4,93.4C1199.3,93.3 1198.1,93.1 1207.2,93.2C1216.3,93.3 1231.2,93.9 1250,94.2C1268.8,94.5 1295,94.6 1320,95C1345,95.4 1379.3,96.4 1400,96.8C1420.7,97.1 1436.7,97 1444,97" fill="none" stroke="#555" stroke-width="0.72" />
<path d="M1283,159.6C1284.9,160.2 1290.7,161.7 1294.4,163.1C1298.2,164.5 1301.8,166.2 1305.4,168C1309,169.7 1312.6,171.5 1316.1,173.4C1319.6,175.3 1323.1,177.2 1326.5,179.3C1330,181.3 1333.4,183.4 1336.7,185.6C1340.1,187.7 1343.4,190 1346.7,192.2C1350,194.5 1353.3,196.8 1356.5,199.1C1359.8,201.4 1363.1,203.7 1366.3,206.1C1369.5,208.4 1372.7,210.8 1375.9,213.3C1379,215.8 1382,218.3 1384.9,221C1387.9,223.8 1390.6,226.6 1393.3,229.6C1395.9,232.6 1398.4,235.7 1400.8,238.9C1403.2,242.1 1405.5,245.4 1407.7,248.7C1410,251.9 1412.3,255.3 1414.5,258.6C1416.7,261.9 1419,265.2 1421.2,268.5C1423.4,271.9 1425.6,275.2 1427.7,278.6C1429.8,282 1431.8,285.4 1433.8,288.9C1435.8,292.4 1437.7,295.9 1439.6,299.4C1441.5,302.9 1443.3,306.5 1445.1,310.1C1446.8,313.7 1448.6,317.3 1450.1,320.9C1451.7,324.6 1453.1,328.3 1454.4,332.1C1455.6,335.9 1456.7,339.7 1457.7,343.6C1458.6,347.5 1459.4,351.4 1460.1,355.3C1460.8,359.3 1461.4,363.2 1461.8,367.2C1462.3,371.1 1462.6,375.1 1462.8,379.1C1463,383.1 1463.1,387.1 1463,391.1C1462.8,395 1462.5,399 1462,403C1461.5,406.9 1460.8,410.8 1459.9,414.7C1459.1,418.6 1458,422.4 1456.8,426.2C1455.6,430 1454.2,433.8 1452.7,437.5C1451.2,441.2 1449.5,444.8 1447.7,448.3C1445.9,451.9 1443.9,455.3 1441.7,458.7C1439.5,462 1437.2,465.2 1434.7,468.3C1432.2,471.4 1429.5,474.4 1426.7,477.2C1423.9,480 1420.9,482.6 1417.8,485C1414.6,487.5 1411.3,489.7 1408,491.8C1404.6,493.8 1401,495.7 1397.4,497.3C1393.8,498.9 1390,500.3 1386.3,501.5C1382.5,502.7 1378.6,503.7 1374.7,504.5C1370.8,505.3 1366.9,505.8 1362.9,506.2C1358.9,506.7 1354.9,506.9 1351,507C1347,507.1 1343,507 1339,506.9C1335,506.8 1331,506.6 1327,506.4C1323,506.1 1319,505.8 1315.1,505.4C1311.1,505 1307.1,504.5 1303.1,503.9C1299.2,503.4 1295.2,502.8 1291.3,502C1287.4,501.3 1283.5,500.5 1279.6,499.6C1275.7,498.6 1271.8,497.6 1268,496.5C1264.2,495.4 1260.4,494.2 1256.6,492.9C1252.8,491.6 1249,490.3 1245.3,488.9C1241.5,487.5 1237.8,486 1234.1,484.5C1230.4,483 1226.7,481.5 1223,480C1219.3,478.4 1215.6,476.8 1212,475.2C1208.3,473.6 1204.7,471.9 1201.1,470.2C1197.5,468.5 1193.9,466.7 1190.3,464.9C1186.8,463 1183.3,461.1 1179.9,459.1C1176.4,457 1173,454.9 1169.7,452.7C1166.4,450.4 1163.2,448.1 1160,445.7C1156.9,443.2 1153.7,440.7 1150.7,438.1C1147.6,435.6 1144.7,432.9 1141.7,430.2C1138.8,427.5 1135.9,424.7 1133.1,421.8C1130.3,419 1127.6,416 1125,413.1C1122.3,410.1 1119.7,407 1117.2,403.9C1114.6,400.8 1112.2,397.7 1109.8,394.5C1107.3,391.3 1105,388.1 1102.6,384.9C1100.3,381.6 1098,378.3 1095.8,375C1093.6,371.7 1091.4,368.4 1089.2,365C1087.1,361.6 1085,358.2 1083,354.7C1080.9,351.3 1079,347.8 1077,344.3C1075.1,340.8 1073.3,337.3 1071.5,333.7C1069.7,330.1 1067.9,326.5 1066.3,322.9C1064.6,319.3 1063,315.6 1061.6,311.9C1060.1,308.2 1058.7,304.4 1057.4,300.6C1056.1,296.9 1054.9,293 1053.9,289.2C1052.8,285.3 1051.8,281.5 1050.9,277.6C1050,273.7 1049.3,269.8 1048.6,265.8C1048,261.9 1047.5,257.9 1047.1,253.9C1046.7,250 1046.5,246 1046.4,242C1046.3,238 1046.4,234 1046.6,230C1046.8,226.1 1047.2,222.1 1047.7,218.1C1048.3,214.2 1049,210.3 1049.8,206.4C1050.7,202.5 1051.7,198.6 1052.9,194.8C1054.2,191 1055.5,187.3 1057.1,183.6C1058.6,179.9 1060.3,176.3 1062.2,172.8C1064,169.3 1066,165.8 1068.1,162.4C1070.2,159.1 1072.5,155.7 1074.9,152.6C1077.3,149.5 1079.9,146.4 1082.7,143.6C1085.5,140.8 1088.5,138.2 1091.6,135.8C1094.8,133.4 1098.1,131.3 1101.6,129.3C1105,127.3 1108.6,125.5 1112.2,123.8C1115.8,122.1 1119.5,120.6 1123.2,119.2C1126.9,117.8 1130.8,116.6 1134.6,115.5C1138.4,114.3 1142.3,113.4 1146.2,112.5C1150.1,111.6 1154,110.8 1157.9,110C1161.8,109.3 1165.8,108.6 1169.7,108C1173.7,107.4 1177.6,106.8 1181.6,106.4C1185.6,106 1189.6,105.7 1193.6,105.5C1197.5,105.3 1201.5,105.3 1205.5,105.3C1209.5,105.3 1213.5,105.5 1217.5,105.6C1221.5,105.8 1225.5,106.1 1229.5,106.4C1233.5,106.6 1237.5,107 1241.5,107.3C1245.4,107.6 1249.4,108 1253.4,108.4C1257.4,108.8 1261.4,109.3 1265.3,109.7C1269.3,110.2 1273.3,110.7 1277.2,111.2C1281.2,111.7 1285.2,112.2 1289.1,112.7C1293.1,113.3 1297.1,113.8 1301,114.3C1305,114.8 1309,115.4 1312.9,115.9C1316.9,116.5 1320.9,117 1324.8,117.6C1328.8,118.1 1332.7,118.7 1336.7,119.2C1340.7,119.7 1344.6,120.2 1348.6,120.7C1352.6,121.1 1356.6,121.5 1360.5,121.9C1364.5,122.3 1368.5,122.6 1372.5,122.9C1376.5,123.2 1380.5,123.5 1384.5,123.7C1388.5,123.9 1392.5,124.1 1396.5,124.3C1400.5,124.4 1404.5,124.5 1408.4,124.6C1412.4,124.7 1416.4,124.8 1420.4,124.8C1424.4,124.9 1428.4,124.9 1432.4,124.9C1436.4,125 1441.2,125 1444.3,125C1447.4,125 1449.9,125 1451,125" fill="none" stroke="#1c1c1c" stroke-width="1.2" />
<path d="M1435.3,299.4C1436.3,301.2 1439.1,306.5 1440.8,310C1442.6,313.5 1444.3,317.1 1445.8,320.7C1447.4,324.2 1448.8,327.8 1450.1,331.5C1451.3,335.2 1452.4,338.9 1453.4,342.6C1454.4,346.4 1455.1,350.2 1455.8,354.1C1456.5,357.9 1457.1,361.8 1457.6,365.7C1458.1,369.6 1458.5,373.5 1458.7,377.4C1458.9,381.3 1459,385.1 1458.9,389C1458.8,392.9 1458.6,396.7 1458.2,400.5C1457.7,404.4 1457.1,408.1 1456.3,411.9C1455.5,415.7 1454.5,419.4 1453.3,423.1C1452.2,426.8 1450.9,430.5 1449.5,434.1C1448,437.7 1446.5,441.2 1444.7,444.6C1443,448.1 1441.1,451.4 1439.1,454.7C1437,457.9 1434.8,461.1 1432.5,464.1C1430.1,467.1 1427.6,470 1424.9,472.7C1422.3,475.4 1419.5,478 1416.5,480.3C1413.6,482.7 1410.4,484.9 1407.2,486.9C1404,488.9 1400.6,490.7 1397.2,492.2C1393.8,493.8 1390.2,495.2 1386.6,496.4C1383,497.5 1379.3,498.5 1375.6,499.2C1371.9,500 1368.1,500.6 1364.3,501C1360.5,501.4 1356.6,501.6 1352.8,501.7C1348.9,501.8 1345,501.7 1341.1,501.6C1337.2,501.5 1333.3,501.3 1329.3,501C1325.4,500.7 1321.5,500.3 1317.6,499.9C1313.7,499.5 1309.8,499 1305.9,498.5C1302,497.9 1298.1,497.3 1294.3,496.5C1290.5,495.8 1286.7,495 1282.9,494.1C1279.1,493.2 1275.4,492.2 1271.6,491.1C1267.9,490 1264.2,488.8 1260.5,487.5C1256.8,486.2 1253.1,484.9 1249.4,483.5C1245.7,482.1 1242,480.6 1238.4,479.1C1234.7,477.6 1231.1,476.1 1227.5,474.5C1223.8,472.9 1220.2,471.3 1216.6,469.7C1213,468 1209.4,466.4 1205.9,464.7C1202.3,463 1198.8,461.3 1195.4,459.5C1191.9,457.7 1188.5,455.8 1185.2,453.9C1181.8,451.9 1178.6,449.9 1175.4,447.7C1172.2,445.6 1169.1,443.3 1166,441C1162.9,438.7 1159.9,436.2 1157,433.7C1154,431.2 1151.1,428.7 1148.2,426C1145.4,423.4 1142.6,420.7 1139.9,417.9C1137.2,415.2 1134.5,412.3 1131.9,409.4C1129.4,406.5 1126.8,403.6 1124.4,400.6C1121.9,397.6 1119.5,394.5 1117.1,391.4C1114.8,388.2 1112.5,385.1 1110.2,381.9C1107.9,378.7 1105.7,375.5 1103.5,372.2C1101.3,368.9 1099.1,365.7 1097,362.4C1094.9,359 1092.9,355.7 1090.9,352.3C1088.9,349 1087,345.6 1085.1,342.1C1083.3,338.7 1081.4,335.2 1079.7,331.7C1077.9,328.3 1076.2,324.8 1074.6,321.2C1073,317.7 1071.5,314.1 1070.1,310.6C1068.6,307 1067.3,303.4 1066,299.7C1064.8,296.1 1063.6,292.4 1062.5,288.7C1061.4,285.1 1060.4,281.3 1059.5,277.6C1058.6,273.9 1057.7,270.2 1057.1,266.4C1056.4,262.6 1055.8,258.9 1055.3,255.1C1054.9,251.3 1054.6,247.5 1054.4,243.7C1054.2,239.9 1054.2,236.1 1054.3,232.4C1054.4,228.6 1054.7,224.8 1055.1,221.1C1055.5,217.3 1056.1,213.6 1056.8,209.9C1057.5,206.2 1058.4,202.5 1059.5,198.9C1060.5,195.3 1061.7,191.7 1063.1,188.2C1064.5,184.7 1066,181.2 1067.7,177.8C1069.3,174.4 1071.1,171 1073.1,167.8C1075,164.5 1077.1,161.3 1079.3,158.3C1081.5,155.3 1083.8,152.4 1086.3,149.7C1088.7,147 1091.4,144.5 1094.2,142.2C1097,139.9 1100,137.9 1103.2,135.9C1106.4,133.9 1109.8,132.2 1113.2,130.5C1116.6,128.9 1120.1,127.3 1123.7,126C1127.3,124.6 1130.9,123.4 1134.5,122.2C1138.2,121.1 1142,120.2 1145.7,119.3C1149.5,118.3 1149.8,117.8 1157.2,116.8C1164.6,115.8 1174.5,113.3 1190,113.2C1205.5,113.2 1231.7,114.6 1250,116.2C1268.3,117.9 1291.7,121.9 1300,123" fill="none" stroke="#555" stroke-width="0.72" />
<path d="M1250,116.2C1252,116.5 1257.9,117.2 1261.9,117.7C1265.9,118.2 1269.9,118.7 1273.8,119.2C1277.8,119.7 1281.8,120.2 1285.7,120.8C1289.7,121.4 1293.6,121.9 1297.6,122.7C1301.5,123.4 1305.4,124.2 1309.3,125.1C1313.2,126 1317,127.1 1320.9,128.1C1324.8,129.1 1328.6,130.2 1332.5,131.2C1336.4,132.1 1340.3,133 1344.2,133.8C1348.1,134.6 1352.1,135.4 1356,136C1359.9,136.7 1363.9,137.4 1367.9,137.9C1371.8,138.5 1375.8,139 1379.8,139.4C1383.7,139.8 1387.7,140.1 1391.7,140.3C1395.7,140.5 1399.7,140.7 1403.7,140.8C1407.7,140.9 1411.7,140.9 1415.7,141C1419.7,141 1423.7,141 1427.7,141C1431.7,140.9 1435.7,140.8 1439.7,140.7C1443.7,140.6 1447.7,140.5 1451.7,140.3C1455.7,140.2 1459.7,140 1463.7,139.7C1467.7,139.4 1471.6,139 1475.6,138.5C1479.6,138.1 1483.6,137.6 1487.5,137C1491.5,136.4 1495.9,135.7 1499.3,134.9C1502.7,134.1 1506.5,132.5 1508,132" fill="none" stroke="#1c1c1c" stroke-width="1.0" />
<path d="M1235.8,126C1237.7,126.3 1243.7,127 1247.6,127.6C1251.6,128.1 1255.6,128.6 1259.5,129.1C1263.5,129.7 1267.5,130.2 1271.4,130.8C1275.4,131.3 1279.4,131.9 1283.3,132.6C1287.2,133.3 1291.1,134.1 1295.1,134.9C1299,135.7 1302.9,136.7 1306.8,137.5C1310.7,138.4 1314.6,139.3 1318.5,140.2C1322.4,141.1 1326.3,142 1330.2,142.9C1334.1,143.7 1338,144.6 1341.9,145.4C1345.8,146.2 1349.8,146.9 1353.7,147.7C1357.6,148.4 1361.5,149.1 1365.5,149.8C1369.4,150.4 1373.4,151.1 1377.4,151.6C1381.3,152.1 1385.3,152.6 1389.3,153C1393.2,153.4 1397.2,153.7 1401.2,154C1405.2,154.3 1409.2,154.5 1413.2,154.7C1417.2,154.9 1421.2,155 1425.2,155C1429.2,155.1 1433.2,155 1437.2,155C1441.2,155 1445.2,154.8 1449.2,154.7C1453.2,154.7 1457.2,154.6 1461.2,154.6C1465.2,154.5 1469.2,154.7 1473.2,154.5C1477.2,154.3 1481.2,154.3 1485.1,153.5C1489,152.8 1493,151.8 1496.4,150.1C1499.8,148.3 1503.3,145 1505.4,142.8C1507.5,140.6 1508.4,138 1509,137" fill="none" stroke="#1c1c1c" stroke-width="1.2" />
<path d="M1192.6,203.6C1190.2,203.8 1184.7,204 1180.7,204.5C1176.8,205 1172.8,205.8 1169,206.7C1165.1,207.5 1161.2,208.6 1157.4,209.8C1153.6,211 1149.8,212.3 1146.1,213.9C1142.5,215.4 1138.9,217.1 1135.5,219.1C1132,221.1 1128.7,223.4 1125.7,225.9C1122.7,228.4 1119.8,231.2 1117.3,234.2C1114.8,237.2 1112.5,240.5 1110.6,244C1108.7,247.4 1107.1,251.1 1105.8,254.8C1104.6,258.5 1103.7,262.5 1103,266.4C1102.4,270.3 1102,274.2 1102,278.2C1101.9,282.2 1102.2,286.2 1102.6,290.1C1103,294 1103.8,298 1104.6,301.9C1105.4,305.8 1106.4,309.7 1107.4,313.6C1108.4,317.4 1109.4,321.3 1110.6,325.1C1111.8,328.9 1113,332.7 1114.4,336.4C1115.9,340.1 1117.5,343.8 1119.3,347.3C1121.2,350.8 1123.3,354.2 1125.6,357.5C1127.9,360.7 1130.4,363.8 1133.1,366.7C1135.7,369.7 1138.5,372.6 1141.3,375.4C1144.1,378.3 1147,381.1 1149.9,383.8C1152.8,386.6 1155.7,389.4 1158.6,392.1C1161.6,394.8 1164.6,397.4 1167.6,400.1C1170.5,402.7 1173.5,405.4 1176.5,408C1179.5,410.7 1182.5,413.4 1185.5,415.9C1188.6,418.5 1191.7,421.1 1194.8,423.5C1198,425.9 1201.3,428.2 1204.6,430.4C1207.9,432.7 1211.3,434.8 1214.7,436.8C1218.2,438.9 1221.6,440.9 1225.1,442.9C1228.6,444.8 1232.1,446.7 1235.7,448.5C1239.3,450.2 1242.9,451.9 1246.6,453.3C1250.4,454.7 1254.2,456 1258,457C1261.8,458.1 1265.7,459.1 1269.6,459.8C1273.6,460.6 1277.5,461.3 1281.5,461.8C1285.4,462.2 1289.4,462.5 1293.4,462.6C1297.3,462.6 1301.3,462.3 1305.3,461.8C1309.2,461.3 1313.1,460.4 1316.9,459.4C1320.8,458.4 1324.6,457.1 1328.3,455.6C1332,454.2 1335.6,452.5 1339.2,450.7C1342.7,448.9 1346.2,446.9 1349.6,444.8C1352.9,442.6 1356.2,440.4 1359.2,437.8C1362.3,435.3 1365.2,432.5 1367.7,429.5C1370.3,426.6 1372.7,423.3 1374.7,419.9C1376.7,416.6 1378.4,412.9 1379.9,409.3C1381.3,405.6 1382.4,401.7 1383.3,397.9C1384.1,394 1384.7,390 1385.1,386.1C1385.5,382.1 1385.6,378.1 1385.6,374.1C1385.5,370.2 1385.2,366.2 1384.7,362.2C1384.2,358.3 1383.5,354.3 1382.6,350.5C1381.7,346.6 1380.5,342.8 1379.2,339C1377.9,335.2 1376.4,331.5 1374.8,327.9C1373.2,324.2 1371.5,320.6 1369.6,317.1C1367.8,313.5 1365.8,310 1363.8,306.6C1361.7,303.2 1359.5,299.9 1357.2,296.6C1354.9,293.4 1352.4,290.2 1349.9,287.2C1347.3,284.1 1344.6,281.1 1341.9,278.2C1339.1,275.3 1336.3,272.5 1333.4,269.7C1330.5,267 1327.6,264.3 1324.5,261.7C1321.5,259.1 1318.4,256.6 1315.2,254.1C1312.1,251.6 1308.9,249.2 1305.7,246.9C1302.4,244.5 1299.2,242.2 1295.8,240.1C1292.4,237.9 1289,235.9 1285.5,234C1282,232.1 1278.4,230.3 1274.8,228.6C1271.2,226.9 1267.6,225.2 1263.9,223.6C1260.2,222 1256.6,220.4 1252.8,218.9C1249.1,217.5 1245.4,216 1241.6,214.7C1237.9,213.3 1234.1,212 1230.3,210.8C1226.5,209.6 1222.6,208.4 1218.8,207.4C1214.9,206.4 1211,205.4 1207.1,204.8C1203.2,204.2 1197.7,203.9 1195.3,203.7C1192.8,203.5 1195,203.5 1192.6,203.6Z" fill="none" stroke="#333" stroke-width="0.72" />
<path d="M1451,83.6L1451,125" fill="none" stroke="#1c1c1c" stroke-width="1.0" />
<path d="M1444,97L1451,84" fill="none" stroke="#555" stroke-width="0.72" />
<path d="M1444,97L1442,124" fill="none" stroke="#555" stroke-width="0.72" />
<ellipse cx="1447.6" cy="100.5" rx="2.4" ry="4.3" transform="rotate(8 1447.6 100.5)" fill="none" stroke="#666" stroke-width="0.7"/>
<ellipse cx="1446.8" cy="115.5" rx="2.4" ry="4.3" transform="rotate(5 1446.8 115.5)" fill="none" stroke="#666" stroke-width="0.7"/>
<path d="M1283,159.6C1283,161.6 1283.1,167.6 1283.3,171.6C1283.4,175.6 1283.5,179.6 1283.7,183.6C1283.9,187.6 1284.1,191.6 1284.4,195.6C1284.7,199.6 1285,203.5 1285.4,207.5C1285.7,211.5 1286,215.5 1286.6,219.5C1287.1,223.4 1287.5,227.4 1288.6,231.2C1289.7,235 1291,238.9 1293,242.3C1294.9,245.7 1297.3,248.9 1300.2,251.6C1303,254.2 1306.5,256.2 1310,258.2C1313.5,260.1 1317.2,261.8 1320.9,263.1C1324.6,264.4 1328.5,265.4 1332.4,266C1336.4,266.5 1340.4,266.5 1344.4,266.2C1348.3,266 1352.3,265.4 1356.2,264.6C1360.1,263.8 1363.9,262.6 1367.7,261.3C1371.5,260 1375.1,258.3 1378.8,256.7C1382.5,255.2 1386.1,253.6 1389.9,252.3C1393.7,251.1 1398.4,249.9 1401.4,249.2C1404.4,248.5 1406.9,248.2 1408,248" fill="none" stroke="#1c1c1c" stroke-width="1.0" />
<circle cx="1296" cy="104" r="3.3" fill="#e4e4e4" stroke="#777" stroke-width="0.8"/><circle cx="1296" cy="104" r="1.3" fill="#bbb" stroke="#666" stroke-width="0.6"/>
<circle cx="1351" cy="107" r="3.3" fill="#e4e4e4" stroke="#777" stroke-width="0.8"/><circle cx="1351" cy="107" r="1.3" fill="#bbb" stroke="#666" stroke-width="0.6"/>
<circle cx="1405.6" cy="110.6" r="3.3" fill="#e4e4e4" stroke="#777" stroke-width="0.8"/><circle cx="1405.6" cy="110.6" r="1.3" fill="#bbb" stroke="#666" stroke-width="0.6"/>
<circle cx="1242" cy="101.5" r="3.3" fill="#e4e4e4" stroke="#777" stroke-width="0.8"/><circle cx="1242" cy="101.5" r="1.3" fill="#bbb" stroke="#666" stroke-width="0.6"/>
<circle cx="1184" cy="101" r="3.3" fill="#e4e4e4" stroke="#777" stroke-width="0.8"/><circle cx="1184" cy="101" r="1.3" fill="#bbb" stroke="#666" stroke-width="0.6"/>
<circle cx="1128" cy="114.5" r="3.3" fill="#e4e4e4" stroke="#777" stroke-width="0.8"/><circle cx="1128" cy="114.5" r="1.3" fill="#bbb" stroke="#666" stroke-width="0.6"/>
<circle cx="1077.6" cy="147" r="3.3" fill="#e4e4e4" stroke="#777" stroke-width="0.8"/><circle cx="1077.6" cy="147" r="1.3" fill="#bbb" stroke="#666" stroke-width="0.6"/>
<circle cx="1046.4" cy="195" r="3.3" fill="#e4e4e4" stroke="#777" stroke-width="0.8"/><circle cx="1046.4" cy="195" r="1.3" fill="#bbb" stroke="#666" stroke-width="0.6"/>
<circle cx="1039" cy="253" r="3.3" fill="#e4e4e4" stroke="#777" stroke-width="0.8"/><circle cx="1039" cy="253" r="1.3" fill="#bbb" stroke="#666" stroke-width="0.6"/>
<circle cx="1053" cy="311" r="3.3" fill="#e4e4e4" stroke="#777" stroke-width="0.8"/><circle cx="1053" cy="311" r="1.3" fill="#bbb" stroke="#666" stroke-width="0.6"/>
<circle cx="1078.4" cy="363.4" r="3.3" fill="#e4e4e4" stroke="#777" stroke-width="0.8"/><circle cx="1078.4" cy="363.4" r="1.3" fill="#bbb" stroke="#666" stroke-width="0.6"/>
<circle cx="1113.6" cy="409.4" r="3.3" fill="#e4e4e4" stroke="#777" stroke-width="0.8"/><circle cx="1113.6" cy="409.4" r="1.3" fill="#bbb" stroke="#666" stroke-width="0.6"/>
<circle cx="1149.6" cy="446.4" r="3.3" fill="#e4e4e4" stroke="#777" stroke-width="0.8"/><circle cx="1149.6" cy="446.4" r="1.3" fill="#bbb" stroke="#666" stroke-width="0.6"/>
<circle cx="1195.6" cy="478.4" r="3.3" fill="#e4e4e4" stroke="#777" stroke-width="0.8"/><circle cx="1195.6" cy="478.4" r="1.3" fill="#bbb" stroke="#666" stroke-width="0.6"/>
<circle cx="1249.5" cy="501.4" r="3.3" fill="#e4e4e4" stroke="#777" stroke-width="0.8"/><circle cx="1249.5" cy="501.4" r="1.3" fill="#bbb" stroke="#666" stroke-width="0.6"/>
<circle cx="1306.4" cy="512.9" r="3.3" fill="#e4e4e4" stroke="#777" stroke-width="0.8"/><circle cx="1306.4" cy="512.9" r="1.3" fill="#bbb" stroke="#666" stroke-width="0.6"/>
<circle cx="1363" cy="513" r="3.3" fill="#e4e4e4" stroke="#777" stroke-width="0.8"/><circle cx="1363" cy="513" r="1.3" fill="#bbb" stroke="#666" stroke-width="0.6"/>
<circle cx="1416.5" cy="491.5" r="3.3" fill="#e4e4e4" stroke="#777" stroke-width="0.8"/><circle cx="1416.5" cy="491.5" r="1.3" fill="#bbb" stroke="#666" stroke-width="0.6"/>
<circle cx="1455.5" cy="450" r="3.3" fill="#e4e4e4" stroke="#777" stroke-width="0.8"/><circle cx="1455.5" cy="450" r="1.3" fill="#bbb" stroke="#666" stroke-width="0.6"/>
<circle cx="1473" cy="395.6" r="3.3" fill="#e4e4e4" stroke="#777" stroke-width="0.8"/><circle cx="1473" cy="395.6" r="1.3" fill="#bbb" stroke="#666" stroke-width="0.6"/>
<circle cx="1469.6" cy="340.6" r="3.3" fill="#e4e4e4" stroke="#777" stroke-width="0.8"/><circle cx="1469.6" cy="340.6" r="1.3" fill="#bbb" stroke="#666" stroke-width="0.6"/>
<circle cx="1453.4" cy="289.6" r="3.3" fill="#e4e4e4" stroke="#777" stroke-width="0.8"/><circle cx="1453.4" cy="289.6" r="1.3" fill="#bbb" stroke="#666" stroke-width="0.6"/>
<circle cx="1424" cy="247.5" r="3.3" fill="#e4e4e4" stroke="#777" stroke-width="0.8"/><circle cx="1424" cy="247.5" r="1.3" fill="#bbb" stroke="#666" stroke-width="0.6"/>
<ellipse cx="1114.6" cy="195.6" rx="7.5" ry="12" transform="rotate(40 1114.6 195.6)" fill="none" stroke="#444" stroke-width="0.8"/>
<ellipse cx="1114.6" cy="195.6" rx="4.7" ry="7.4" transform="rotate(40 1114.6 195.6)" fill="none" stroke="#444" stroke-width="0.8"/>
<ellipse cx="1254.6" cy="193.6" rx="12" ry="7.5" transform="rotate(22 1254.6 193.6)" fill="none" stroke="#444" stroke-width="0.8"/>
<ellipse cx="1254.6" cy="193.6" rx="7.4" ry="4.7" transform="rotate(22 1254.6 193.6)" fill="none" stroke="#444" stroke-width="0.8"/>
<ellipse cx="1386" cy="301" rx="6.7" ry="11.7" transform="rotate(-15 1386 301)" fill="none" stroke="#444" stroke-width="0.8"/>
<ellipse cx="1386" cy="301" rx="4.2" ry="7.3" transform="rotate(-15 1386 301)" fill="none" stroke="#444" stroke-width="0.8"/>
<ellipse cx="1388" cy="441.6" rx="11" ry="8" transform="rotate(-35 1388 441.6)" fill="none" stroke="#444" stroke-width="0.8"/>
<ellipse cx="1388" cy="441.6" rx="6.8" ry="5" transform="rotate(-35 1388 441.6)" fill="none" stroke="#444" stroke-width="0.8"/>
<ellipse cx="1188.6" cy="380.4" rx="10" ry="10" transform="rotate(0 1188.6 380.4)" fill="none" stroke="#444" stroke-width="0.8"/>
<ellipse cx="1188.6" cy="380.4" rx="6.2" ry="6.2" transform="rotate(0 1188.6 380.4)" fill="none" stroke="#444" stroke-width="0.8"/>
<ellipse cx="1145" cy="181" rx="6" ry="3" transform="rotate(-25 1145 181)" fill="none" stroke="#555" stroke-width="0.8"/>
<ellipse cx="1145" cy="181" rx="2.7" ry="1.4" transform="rotate(-25 1145 181)" fill="#ccc" stroke="#777" stroke-width="0.8"/>
<ellipse cx="1100" cy="219" rx="3" ry="6" transform="rotate(25 1100 219)" fill="none" stroke="#555" stroke-width="0.8"/>
<ellipse cx="1100" cy="219" rx="1.4" ry="2.7" transform="rotate(25 1100 219)" fill="#ccc" stroke="#777" stroke-width="0.8"/>
<ellipse cx="1398.4" cy="409" rx="3" ry="6.5" transform="rotate(20 1398.4 409)" fill="none" stroke="#555" stroke-width="0.8"/>
<ellipse cx="1398.4" cy="409" rx="1.4" ry="2.9" transform="rotate(20 1398.4 409)" fill="#ccc" stroke="#777" stroke-width="0.8"/>
<ellipse cx="1355.6" cy="462.6" rx="6.5" ry="3" transform="rotate(-15 1355.6 462.6)" fill="none" stroke="#555" stroke-width="0.8"/>
<ellipse cx="1355.6" cy="462.6" rx="2.9" ry="1.4" transform="rotate(-15 1355.6 462.6)" fill="#ccc" stroke="#777" stroke-width="0.8"/>
<ellipse cx="1104" cy="341" rx="1.8" ry="12" transform="rotate(-28 1104 341)" fill="none" stroke="#555" stroke-width="0.8"/>
<ellipse cx="1104" cy="341" rx="0.8" ry="8" transform="rotate(-28 1104 341)" fill="none" stroke="#888" stroke-width="0.6"/>
<ellipse cx="1230" cy="458" rx="12" ry="2" transform="rotate(18 1230 458)" fill="none" stroke="#555" stroke-width="0.8"/>
<path d="M1143,406L1150,399L1169,417L1163,423Z" fill="none" stroke="#444" stroke-width="0.9" />
<path d="M1146,407.5L1151.5,402.5L1166,416L1161,420.5Z" fill="none" stroke="#777" stroke-width="0.7" />
<g transform="translate(1383,169.5) rotate(-48)">
<path d="M-13,0.5 C-13,-4.5 -7,-7 -1,-7 C4,-7 8,-4.5 15.5,-2.5 C12.5,-0.5 11,3 7,5.5 C2,8.5 -13,7.5 -13,0.5Z" fill="#fff" stroke="#1c1c1c" stroke-width="1.2" />
<path d="M-11,1 C-11,-3.5 -6,-5.5 -1,-5.2 C3,-5 6,-3.5 9,-2.8 M-11,1 C-10.5,4.5 -6,6 -1,5.6 M-9.5,3 C-6,-1 -1,-1.5 2,0.5 L7.5,0.8 M2,0.5 C2.5,2 2,4 1,5.2" fill="none" stroke="#333" stroke-width="0.75" />
</g>
<g transform="translate(1411.5,189) rotate(-48)">
<path d="M-13,0.5 C-13,-4.5 -7,-7 -1,-7 C4,-7 8,-4.5 15.5,-2.5 C12.5,-0.5 11,3 7,5.5 C2,8.5 -13,7.5 -13,0.5Z" fill="#fff" stroke="#1c1c1c" stroke-width="1.2" />
<path d="M-11,1 C-11,-3.5 -6,-5.5 -1,-5.2 C3,-5 6,-3.5 9,-2.8 M-11,1 C-10.5,4.5 -6,6 -1,5.6 M-9.5,3 C-6,-1 -1,-1.5 2,0.5 L7.5,0.8 M2,0.5 C2.5,2 2,4 1,5.2" fill="none" stroke="#333" stroke-width="0.75" />
</g>
<g transform="translate(1433,206.5) rotate(-48)">
<path d="M-13,0.5 C-13,-4.5 -7,-7 -1,-7 C4,-7 8,-4.5 15.5,-2.5 C12.5,-0.5 11,3 7,5.5 C2,8.5 -13,7.5 -13,0.5Z" fill="#fff" stroke="#1c1c1c" stroke-width="1.2" />
<path d="M-11,1 C-11,-3.5 -6,-5.5 -1,-5.2 C3,-5 6,-3.5 9,-2.8 M-11,1 C-10.5,4.5 -6,6 -1,5.6 M-9.5,3 C-6,-1 -1,-1.5 2,0.5 L7.5,0.8 M2,0.5 C2.5,2 2,4 1,5.2" fill="none" stroke="#333" stroke-width="0.75" />
</g>
<g transform="translate(1451.7,232.5) rotate(-43.5)">
<path d="M0,-4.6 L37,-4.6 A4,5 0 0 1 37,4.6 L0,4.6Z" fill="#fff" stroke="#1c1c1c" stroke-width="1.1" />
<ellipse cx="37" cy="0" rx="3.8" ry="4.6" transform="rotate(0 37 0)" fill="#fff" stroke="#1c1c1c" stroke-width="0.9"/>
<ellipse cx="0" cy="0" rx="3.6" ry="6" transform="rotate(0 0 0)" fill="#fff" stroke="#1c1c1c" stroke-width="1.1"/>
<ellipse cx="-1.8" cy="0" rx="3.6" ry="6" transform="rotate(0 -1.8 0)" fill="#fff" stroke="#1c1c1c" stroke-width="1.1"/>
</g>
<g transform="translate(1428,271.7) rotate(-31)">
<rect x="0" y="0" width="58.5" height="18" rx="3.5" fill="#fff" stroke="#1c1c1c" stroke-width="1.3"/>
</g>
<ellipse cx="1485.7" cy="286" rx="9.3" ry="8.6" transform="rotate(0 1485.7 286)" fill="#fff" stroke="#444" stroke-width="0.9"/>
<ellipse cx="1487.3" cy="284.4" rx="7.6" ry="7.4" transform="rotate(0 1487.3 284.4)" fill="#fff" stroke="#1c1c1c" stroke-width="1.0"/>
<ellipse cx="1495" cy="316" rx="9.3" ry="8.6" transform="rotate(0 1495 316)" fill="#fff" stroke="#444" stroke-width="0.9"/>
<ellipse cx="1496.6" cy="314.4" rx="7.6" ry="7.4" transform="rotate(0 1496.6 314.4)" fill="#fff" stroke="#1c1c1c" stroke-width="1.0"/>
<path d="M900,347L1070,165" fill="none" stroke="#666" stroke-width="0.9" stroke-dasharray="5.5 4"/>
<path d="M981,369.5L1113.8,238.8" fill="none" stroke="#666" stroke-width="0.9" stroke-dasharray="5.5 4"/>
<path d="M1220,573L1350,444" fill="none" stroke="#666" stroke-width="0.9" stroke-dasharray="5.5 4"/>
<path d="M1256.7,651.5L1417.7,487.6" fill="none" stroke="#666" stroke-width="0.9" stroke-dasharray="5.5 4"/>
<line x1="1025.7" y1="77.1" x2="1066.9" y2="125.1" stroke="#1c1c1c" stroke-width="2.4"/>
<polygon points="1071.6,130.6 1062.1,126.9 1069.3,120.7" fill="#1c1c1c"/>
<polygon points="1021,71.6 1023.3,81.5 1030.5,75.3" fill="#1c1c1c"/>
<line x1="1189.3" y1="121.2" x2="1192.1" y2="195.8" stroke="#1c1c1c" stroke-width="2.4"/>
<polygon points="1192.4,203 1187.3,194.2 1196.8,193.8" fill="#1c1c1c"/>
<polygon points="1189,114 1184.6,123.2 1194.1,122.8" fill="#1c1c1c"/>
<line x1="1452.4" y1="70" x2="1452.4" y2="76.3" stroke="#1c1c1c" stroke-width="2.4"/>
<polygon points="1452.4,83.5 1447.7,74.5 1457.2,74.5" fill="#1c1c1c"/>
<line x1="1451" y1="140" x2="1451" y2="133.2" stroke="#1c1c1c" stroke-width="2.4"/>
<polygon points="1451,126 1455.8,135 1446.2,135" fill="#1c1c1c"/>
<line x1="1479.6" y1="76.2" x2="1481.2" y2="130.8" stroke="#1c1c1c" stroke-width="2.4"/>
<polygon points="1481.4,138 1476.4,129.1 1485.9,128.9" fill="#1c1c1c"/>
<polygon points="1479.4,69 1474.9,78.1 1484.4,77.9" fill="#1c1c1c"/>
<line x1="1530.4" y1="75.2" x2="1533" y2="541.8" stroke="#1c1c1c" stroke-width="2.4"/>
<polygon points="1533,549 1528.2,540 1537.7,540" fill="#1c1c1c"/>
<polygon points="1530.4,68 1525.7,77 1535.2,77" fill="#1c1c1c"/>
<line x1="1308.7" y1="249.5" x2="1348.9" y2="202.5" stroke="#1c1c1c" stroke-width="2.4"/>
<polygon points="1353.6,197 1351.4,206.9 1344.1,200.8" fill="#1c1c1c"/>
<polygon points="1304,255 1313.5,251.2 1306.2,245.1" fill="#1c1c1c"/>
<line x1="1175.8" y1="397.7" x2="1298.8" y2="262.3" stroke="#1c1c1c" stroke-width="2.4"/>
<polygon points="1303.6,257 1301.1,266.9 1294,260.5" fill="#1c1c1c"/>
<polygon points="1171,403 1180.6,399.5 1173.5,393.1" fill="#1c1c1c"/>
<line x1="1179.7" y1="437" x2="1371.3" y2="218.4" stroke="#1c1c1c" stroke-width="2.4"/>
<polygon points="1376,213 1373.6,222.9 1366.5,216.6" fill="#1c1c1c"/>
<polygon points="1175,442.4 1184.5,438.8 1177.4,432.5" fill="#1c1c1c"/>
<line x1="1119" y1="371" x2="1108.9" y2="381.7" stroke="#1c1c1c" stroke-width="2.4"/>
<polygon points="1104,387 1106.7,377.2 1113.6,383.7" fill="#1c1c1c"/>
<line x1="1078" y1="416" x2="1088.1" y2="405.3" stroke="#1c1c1c" stroke-width="2.4"/>
<polygon points="1093,400 1090.3,409.8 1083.4,403.3" fill="#1c1c1c"/>
<line x1="986.5" y1="374.2" x2="1214.5" y2="568.3" stroke="#1c1c1c" stroke-width="2.4"/>
<polygon points="1220,573 1210.1,570.8 1216.2,563.5" fill="#1c1c1c"/>
<polygon points="981,369.5 984.8,379 990.9,371.7" fill="#1c1c1c"/>
<line x1="905.5" y1="351.7" x2="1251.2" y2="646.8" stroke="#1c1c1c" stroke-width="2.4"/>
<polygon points="1256.7,651.5 1246.8,649.3 1252.9,642" fill="#1c1c1c"/>
<polygon points="900,347 903.8,356.5 909.9,349.2" fill="#1c1c1c"/>
<line x1="1465" y1="475.9" x2="1507" y2="503.1" stroke="#1c1c1c" stroke-width="2.4"/>
<polygon points="1513,507 1502.9,506.1 1508,498.1" fill="#1c1c1c"/>
<polygon points="1459,472 1464,480.9 1469.1,472.9" fill="#1c1c1c"/>
<text transform="translate(1056,94.5) rotate(49.5)" font-size="15.8" font-weight="bold" fill="#1c1c1c" stroke="#1c1c1c" stroke-width="0.35" stroke-linejoin="miter" text-anchor="middle" dominant-baseline="central" textLength="45" lengthAdjust="spacingAndGlyphs">27 cm</text>
<text transform="translate(1202,158) rotate(88)" font-size="15.8" font-weight="bold" fill="#1c1c1c" stroke="#1c1c1c" stroke-width="0.35" stroke-linejoin="miter" text-anchor="middle" dominant-baseline="central" textLength="44" lengthAdjust="spacingAndGlyphs">44 cm</text>
<text transform="translate(1461.6,104.4) rotate(90)" font-size="15.8" font-weight="bold" fill="#1c1c1c" stroke="#1c1c1c" stroke-width="0.35" stroke-linejoin="miter" text-anchor="middle" dominant-baseline="central" textLength="43" lengthAdjust="spacingAndGlyphs">13 cm</text>
<text transform="translate(1495,103) rotate(88.5)" font-size="15.8" font-weight="bold" fill="#1c1c1c" stroke="#1c1c1c" stroke-width="0.35" stroke-linejoin="miter" text-anchor="middle" dominant-baseline="central" textLength="44" lengthAdjust="spacingAndGlyphs">25 cm</text>
<text transform="translate(1546,336) rotate(-90)" font-size="15.8" font-weight="bold" fill="#1c1c1c" stroke="#1c1c1c" stroke-width="0.35" stroke-linejoin="miter" text-anchor="middle" dominant-baseline="central" textLength="52" lengthAdjust="spacingAndGlyphs">148 cm</text>
<text transform="translate(1323,219) rotate(-49.5)" font-size="15.8" font-weight="bold" fill="#1c1c1c" stroke="#1c1c1c" stroke-width="0.35" stroke-linejoin="miter" text-anchor="middle" dominant-baseline="central" textLength="45" lengthAdjust="spacingAndGlyphs">23 cm</text>
<text transform="translate(1230,320) rotate(-47.7)" font-size="15.8" font-weight="bold" fill="#1c1c1c" stroke="#1c1c1c" stroke-width="0.35" stroke-linejoin="miter" text-anchor="middle" dominant-baseline="central" textLength="45" lengthAdjust="spacingAndGlyphs">75 cm</text>
<text transform="translate(1268,322) rotate(-48.8)" font-size="15.8" font-weight="bold" fill="#1c1c1c" stroke="#1c1c1c" stroke-width="0.35" stroke-linejoin="miter" text-anchor="middle" dominant-baseline="central" textLength="45" lengthAdjust="spacingAndGlyphs">99 cm</text>
<text transform="translate(1084,390) rotate(-47)" font-size="15.8" font-weight="bold" fill="#1c1c1c" stroke="#1c1c1c" stroke-width="0.35" stroke-linejoin="miter" text-anchor="middle" dominant-baseline="central" textLength="32" lengthAdjust="spacingAndGlyphs">7 cm</text>
<text transform="translate(1088,479) rotate(40.5)" font-size="15.8" font-weight="bold" fill="#1c1c1c" stroke="#1c1c1c" stroke-width="0.35" stroke-linejoin="miter" text-anchor="middle" dominant-baseline="central" textLength="56" lengthAdjust="spacingAndGlyphs">120 cm</text>
<text transform="translate(1063.6,503.5) rotate(40.5)" font-size="15.8" font-weight="bold" fill="#1c1c1c" stroke="#1c1c1c" stroke-width="0.35" stroke-linejoin="miter" text-anchor="middle" dominant-baseline="central" textLength="56" lengthAdjust="spacingAndGlyphs">144 cm</text>
<text transform="translate(1489,474.3) rotate(33)" font-size="15.8" font-weight="bold" fill="#1c1c1c" stroke="#1c1c1c" stroke-width="0.35" stroke-linejoin="miter" text-anchor="middle" dominant-baseline="central" textLength="44" lengthAdjust="spacingAndGlyphs">21 cm</text>
</g>
</svg>
</body></html>
